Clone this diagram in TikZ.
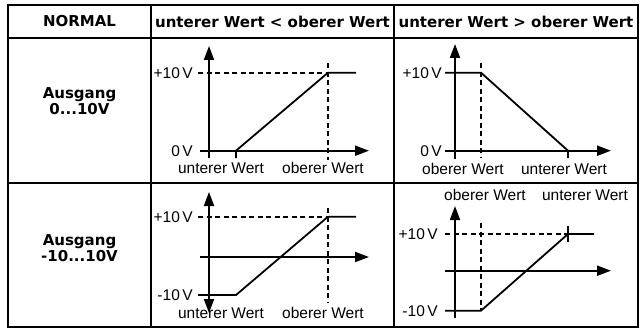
\documentclass[tikz,border=0pt]{standalone}
\usepackage{fontspec}
\setmainfont{Liberation Sans}
\newfontfamily\boldfam{DejaVu Sans}
\usetikzlibrary{arrows.meta}

\tikzset{
  grid line/.style={line width=2pt},
  axis/.style={line width=2pt, -{Triangle[length=14pt,width=10pt]}},
  axis both/.style={line width=2pt, {Triangle[length=14pt,width=10pt]}-{Triangle[length=14pt,width=10pt]}},
  curve/.style={line width=1.8pt},
  guide/.style={line width=1.7pt, dash pattern=on 5pt off 3.5pt},
  head/.style={font=\boldfam\bfseries\fontsize{15}{16}\selectfont, align=center},
  lbl/.style={font=\fontsize{15.5}{16}\selectfont, inner sep=0pt},
}

\begin{document}
\begin{tikzpicture}[x=1pt, y=-1pt]
    \useasboundingbox (0,0) rectangle (642,329);

    % Table frame
    \draw[grid line] (8,5) rectangle (638,327);
    \draw[grid line] (8,38) -- (638,38);
    \draw[grid line] (8,183) -- (638,183);
    \draw[grid line] (151,5) -- (151,327);
    \draw[grid line] (394,5) -- (394,327);

    % Header row
    \node[head] (normal) at (79.5,21.5) {NORMAL};
    \node[head] (hdrlt) at (272.5,21.5) {unterer Wert < oberer Wert};
    \node[head] (hdrgt) at (516,21.5) {unterer Wert > oberer Wert};
    \node[head] (out10) at (79.5,101) {Ausgang\\0...10V};
    \node[head] (outpm) at (79.5,248) {Ausgang\\-10...10V};

    % Panel 0..10V, rising
    \draw[guide] (198,72.7) -- (328,72.7);
    \draw[guide] (328,63) -- (328,160);
    \draw[axis] (209,158) -- (209,46);
    \draw[axis] (200,150.7) -- (369,150.7);
    \draw[curve] (236,158) -- (236,150.7) -- (328,72.7) -- (356,72.7);
    \node[lbl, anchor=east] (a10) at (193,72.7) {+10\,V};
    \node[lbl, anchor=east] (a0) at (193,150.7) {0\,V};
    \node[lbl, anchor=base] (alo) at (221,173) {unterer Wert};
    \node[lbl, anchor=base] (ahi) at (323,173) {oberer Wert};

    % Panel 0..10V, falling
    \draw[guide] (481,63) -- (481,158);
    \draw[axis] (455,159) -- (455,44);
    \draw[axis] (445,150.7) -- (611,150.7);
    \draw[curve] (445,72.7) -- (481,72.7) -- (568,150.7) -- (568,158);
    \node[lbl, anchor=east] (b10) at (442,72.7) {+10\,V};
    \node[lbl, anchor=east] (b0) at (442,150.7) {0\,V};
    \node[lbl, anchor=base] (bhi) at (463,174) {oberer Wert};
    \node[lbl, anchor=base] (blo) at (564,174) {unterer Wert};

    % Panel -10..10V, rising
    \draw[guide] (198,216.7) -- (328,216.7);
    \draw[guide] (328,208) -- (328,303);
    \draw[axis both] (209,313) -- (209,192);
    \draw[axis] (200,257) -- (369,257);
    \draw[curve] (198,295) -- (236,295) -- (328,216.7) -- (356,216.7);
    \node[lbl, anchor=east] (c10) at (193,216.7) {+10\,V};
    \node[lbl, anchor=east] (cm10) at (193,295) {-10\,V};
    \node[lbl, anchor=base] (clo) at (221,318) {unterer Wert};
    \node[lbl, anchor=base] (chi) at (323,318) {oberer Wert};

    % Panel -10..10V, falling limits
    \draw[guide] (445,234) -- (568,234);
    \draw[guide] (481,223) -- (481,310);
    \draw[axis] (455,318) -- (455,206);
    \draw[axis] (445,270.7) -- (611,270.7);
    \draw[curve] (445,310.7) -- (481,310.7) -- (568,234) -- (594,234);
    \draw[curve] (568,226) -- (568,242);
    \node[lbl, anchor=east] (d10) at (438,234) {+10\,V};
    \node[lbl, anchor=east] (dm10) at (438,310.7) {-10\,V};
    \node[lbl, anchor=base] (dhi) at (485,200.7) {oberer Wert};
    \node[lbl, anchor=base] (dlo) at (585,200.7) {unterer Wert};
\end{tikzpicture}
\end{document}
